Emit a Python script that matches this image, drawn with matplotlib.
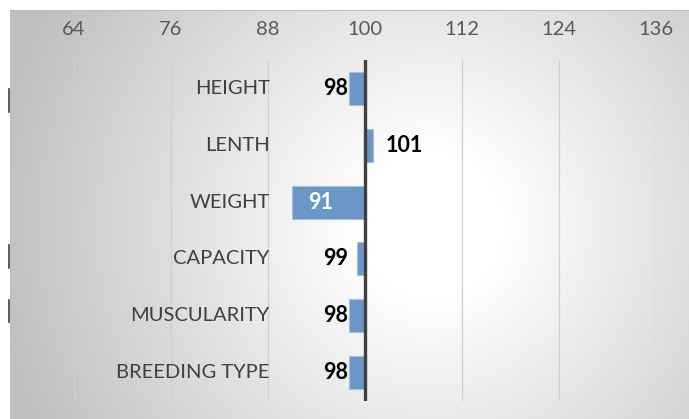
import numpy as np
import matplotlib
matplotlib.use("Agg")
import matplotlib.pyplot as plt
from matplotlib.lines import Line2D

# data
categories = ["HEIGHT", "LENTH", "WEIGHT", "CAPACITY", "MUSCULARITY", "BREEDING TYPE"]
values = [98, 101, 91, 99, 98, 98]
baseline = 100
x_ticks = [64, 76, 88, 100, 112, 124, 136]

W, H = 689, 419
plt.rcParams["font.family"] = ["Lato", "DejaVu Sans"]

fig = plt.figure(figsize=(W / 100, H / 100), dpi=100, facecolor="white")

# gradient panel (white centre, grey edges)
bg = fig.add_axes([10 / W, 0, (W - 10) / W, (H - 10) / H], zorder=0)
yy, xx = np.mgrid[0:H - 10, 0:W - 10]
d = np.hypot(xx - 420, yy - 215)
shade = 1 - 0.25 * np.clip((d - 70) / 370, 0, 1)
bg.imshow(np.dstack([shade] * 3), aspect="auto", extent=[0, 1, 0, 1], interpolation="bilinear")
bg.set_xlim(0, 1)
bg.set_ylim(0, 1)
bg.axis("off")
bg.add_line(Line2D([0, 1], [1, 1], transform=bg.transAxes, color="#bdbdbd", lw=1.5))

# plot area
left, right, top, bottom = 74, 656, 60, 401
ax = fig.add_axes([left / W, (H - bottom) / H, (right - left) / W, (bottom - top) / H], zorder=1)
ax.patch.set_alpha(0)
ax.set_xlim(x_ticks[0], x_ticks[-1])
ax.set_ylim(len(categories) - 0.5, -0.5)

pos = np.arange(len(categories))
widths = [v - baseline for v in values]
ax.barh(pos, widths, left=baseline, height=0.58, color="#6a96c8",
        edgecolor="#a7c0e0", linewidth=0.8, zorder=3)

for x in x_ticks:
    ax.axvline(x, color="#cfcfcf", lw=0.9, zorder=1)
ax.axvline(baseline, color="#404040", lw=2.4, zorder=4)

for i, (cat, v) in enumerate(zip(categories, values)):
    ax.text(88.2, i, cat, ha="right", va="center", fontsize=14.5, color="#404040", zorder=5)
    if v > baseline:
        ax.text(102.5, i, str(v), ha="left", va="center", fontsize=15.5,
                fontweight="bold", color="black", zorder=5)
    elif v <= 92:
        ax.text(v + 2.0, i, str(v), ha="left", va="center", fontsize=15.5,
                fontweight="bold", color="white", zorder=5)
    else:
        ax.text(97.9, i, str(v), ha="right", va="center", fontsize=15.5,
                fontweight="bold", color="black", zorder=5)

ax.xaxis.tick_top()
ax.set_xticks(x_ticks)
ax.set_xticklabels([str(t) for t in x_ticks])
ax.tick_params(axis="x", length=0, pad=16, labelsize=14.5, labelcolor="#595959")
ax.set_yticks([])
for s in ax.spines.values():
    s.set_visible(False)

# clipped text fragments on the left edge of the source
for y0, y1 in [(89, 112), (245, 268), (300, 322)]:
    fig.add_artist(Line2D([9 / W, 9 / W], [1 - y0 / H, 1 - y1 / H], color="#404040", lw=1.2))

fig.savefig("out.png", dpi=100, facecolor="white")
